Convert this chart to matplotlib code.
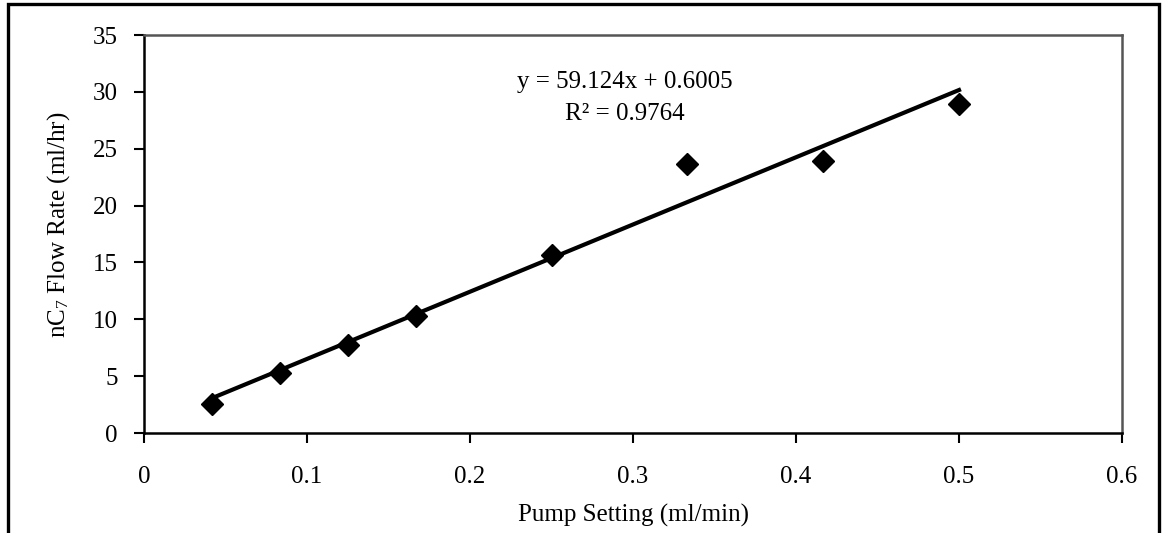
import matplotlib
matplotlib.use("Agg")
import matplotlib.pyplot as plt
from matplotlib.patches import Rectangle
import numpy as np

plt.rcParams['font.family'] = ['Liberation Serif', 'DejaVu Serif']
plt.rcParams['mathtext.fontset'] = 'custom'
plt.rcParams['mathtext.rm'] = 'Liberation Serif'
plt.rcParams['mathtext.it'] = 'Liberation Serif:italic'

# pump setting (ml/min) vs measured nC7 flow rate (ml/hr)
pump_setting = [0.0417, 0.0833, 0.125, 0.1667, 0.25, 0.3333, 0.4167, 0.5]
flow_rate = [2.55, 5.3, 7.7, 10.3, 15.65, 23.7, 23.9, 28.9]
slope = 59.124
intercept = 0.6005
r_squared = 0.9764

x_ticks = [0, 0.1, 0.2, 0.3, 0.4, 0.5, 0.6]
y_ticks = [0, 5, 10, 15, 20, 25, 30, 35]

fig = plt.figure(figsize=(11.65, 5.33), dpi=100)
ax = fig.add_axes([0.1236, 0.1876, 0.8395, 0.7467])

# outer chart frame (bottom edge is cut off in the original)
fig.patches.append(Rectangle((0.0069, -0.1), 0.9879, 1.0925, transform=fig.transFigure,
                             fill=False, edgecolor='black', linewidth=2.4))

ax.plot(pump_setting, flow_rate, 'D', color='black', markersize=11, zorder=3)

xs = np.array([pump_setting[0], pump_setting[-1]])
ax.plot(xs, slope * xs + intercept, color='black', linewidth=3, zorder=2)

ax.text(0.295, 30.85, 'y = 59.124x + 0.6005', ha='center', va='center', fontsize=18)
ax.text(0.295, 28.05, 'R² = %.4f' % r_squared, ha='center', va='center', fontsize=18)

ax.set_xlim(0, 0.6)
ax.set_ylim(0, 35)
ax.set_xticks(x_ticks)
ax.set_xticklabels([('%g' % t) for t in x_ticks])
ax.set_yticks(y_ticks)
ax.tick_params(direction='out', length=7, width=1.5, labelsize=18, pad=12, colors='black')
ax.tick_params(axis='x', pad=16.5)

for s in ['left', 'bottom']:
    ax.spines[s].set_linewidth(1.8)
    ax.spines[s].set_color('black')
for s in ['top', 'right']:
    ax.spines[s].set_linewidth(1.8)
    ax.spines[s].set_color('#555555')

ax.set_xlabel('Pump Setting (ml/min)', fontsize=18, labelpad=12)
ax.set_ylabel('nC$_7$ Flow Rate (ml/hr)', fontsize=18)
ax.yaxis.set_label_coords(-0.0736, 0.523)

fig.savefig('out.png', dpi=100)
